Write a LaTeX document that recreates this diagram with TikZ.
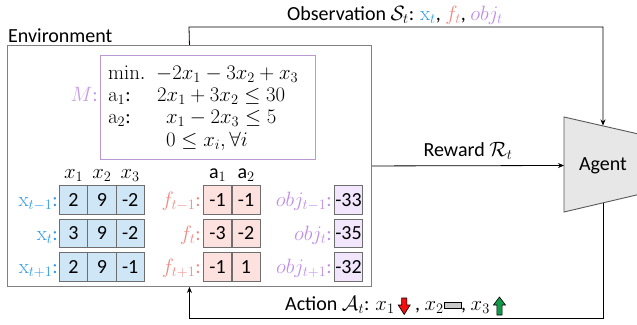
\documentclass[tikz,border=0pt]{standalone}
\usepackage[no-math]{fontspec}
\setmainfont{Carlito}
\DeclareMathSizes{20}{21}{15}{11}
\usetikzlibrary{arrows.meta,calc}
\definecolor{xblue}{HTML}{2E9BE6}
\definecolor{xfill}{HTML}{CFE6F7}
\definecolor{fred}{HTML}{EE8A82}
\definecolor{ffill}{HTML}{FDE1DE}
\definecolor{objpurple}{HTML}{C08EE6}
\definecolor{objfill}{HTML}{F2E6FD}
\definecolor{mpurple}{HTML}{C69BEA}
\definecolor{mborder}{HTML}{B899D4}
\definecolor{cellborder}{HTML}{6E6E6E}
\definecolor{envborder}{HTML}{808080}
\definecolor{agentfill}{HTML}{E7E7E7}
\definecolor{agentborder}{HTML}{595959}
\definecolor{downred}{HTML}{F01010}
\definecolor{upgreen}{HTML}{0E9A48}
\definecolor{rectgrey}{HTML}{C8C8C8}
\newcommand{\icondown}{\tikz[x=1pt,y=1pt,baseline=0pt]\draw[black,line width=0.6pt,fill=downred] (-2.6,12) -- (2.6,12) -- (2.6,5) -- (6,5) -- (0,-4.5) -- (-6,5) -- (-2.6,5) -- cycle;}
\newcommand{\iconup}{\tikz[x=1pt,y=1pt,baseline=0pt]\draw[black,line width=0.6pt,fill=upgreen] (-2.6,-5) -- (2.6,-5) -- (2.6,5) -- (6,5) -- (0,13) -- (-6,5) -- (-2.6,5) -- cycle;}
\newcommand{\iconrect}{\tikz[x=1pt,y=1pt,baseline=0pt]\draw[black,line width=0.6pt,fill=rectgrey] (0,2) rectangle (17,7.5);}
\begin{document}
\begin{tikzpicture}[x=1pt,y=-1pt,font=\fontsize{20}{24}\selectfont,
  cellbox/.style={draw=cellborder,line width=0.8pt,minimum width=28.33pt,minimum height=28.5pt,inner sep=0pt,anchor=north west},
  xcell/.style={cellbox,fill=xfill},
  fcell/.style={cellbox,fill=ffill},
  ocell/.style={cellbox,fill=objfill},
  rowlab/.style={anchor=base east,inner sep=0pt},
  head/.style={anchor=base,inner sep=0pt},
  mline/.style={anchor=base west,inner sep=0pt,text height=14pt,text depth=3pt},
  conn/.style={line width=0.8pt,black},
  tip/.style={-{Stealth[length=6pt,width=5pt]}}]
\useasboundingbox (0,0) rectangle (637,324);
% environment
\node[draw=envborder,line width=0.9pt,minimum width=364pt,minimum height=241pt,anchor=north west,inner sep=0pt] (env) at (7,45) {};
\node[anchor=base west,inner sep=0pt] (envlab) at (8,42) {Environment};
% M box
\node[draw=mborder,line width=0.9pt,minimum width=215pt,minimum height=104pt,anchor=north west,inner sep=0pt] (mbox) at (100,55) {};
\node[anchor=base east,inner sep=0pt,text=mpurple] (mlab) at (98,101.5) {$M$:};
\node[mline] (m1a) at (108,79) {$\mathrm{min.}$};
\node[mline] (m1b) at (156,79) {$-2x_1-3x_2+x_3$};
\node[mline] (m2a) at (108,101.5) {$\mathrm{a}_1$:};
\node[mline] (m2b) at (157,101.5) {$2x_1+3x_2\le 30$};
\node[mline] (m3a) at (108,123) {$\mathrm{a}_2$:};
\node[mline] (m3b) at (166,123) {$x_1-2x_3\le 5$};
\node[mline] (m4b) at (166,146) {$0\le x_i,\forall i$};
% x cells
\node[xcell] (x11) at (59,185) {2};
\node[xcell] (x12) at (87.33,185) {9};
\node[xcell] (x13) at (115.67,185) {-2};
\node[xcell] (x21) at (59,218.5) {3};
\node[xcell] (x22) at (87.33,218.5) {9};
\node[xcell] (x23) at (115.67,218.5) {-2};
\node[xcell] (x31) at (59,252) {2};
\node[xcell] (x32) at (87.33,252) {9};
\node[xcell] (x33) at (115.67,252) {-1};
% f cells
\node[fcell] (f11) at (203,185) {-1};
\node[fcell] (f12) at (231.5,185) {-1};
\node[fcell] (f21) at (203,218.5) {-3};
\node[fcell] (f22) at (231.5,218.5) {-2};
\node[fcell] (f31) at (203,252) {-1};
\node[fcell] (f32) at (231.5,252) {1};
% obj cells
\node[ocell] (o1) at (334,185) {-33};
\node[ocell] (o2) at (334,218.5) {-35};
\node[ocell] (o3) at (334,252) {-32};
% headers
\node[head] (hx1) at ($(x11.north)+(0,-7)$) {$x_1$};
\node[head] (hx2) at ($(x12.north)+(0,-7)$) {$x_2$};
\node[head] (hx3) at ($(x13.north)+(0,-7)$) {$x_3$};
\node[head] (ha1) at ($(f11.north)+(0,-7)$) {a$_1$};
\node[head] (ha2) at ($(f12.north)+(0,-7)$) {a$_2$};
% row labels
\node[rowlab,text=xblue] (lx1) at ($(x11.west)+(-1,7)$) {$\mathrm{x}_{t-1}$:};
\node[rowlab,text=xblue] (lx2) at ($(x21.west)+(-1,7)$) {$\mathrm{x}_{t}$:};
\node[rowlab,text=xblue] (lx3) at ($(x31.west)+(-1,7)$) {$\mathrm{x}_{t+1}$:};
\node[rowlab,text=fred] (lf1) at ($(f11.west)+(-2,7)$) {$f_{t-1}$:};
\node[rowlab,text=fred] (lf2) at ($(f21.west)+(-2,7)$) {$f_{t}$:};
\node[rowlab,text=fred] (lf3) at ($(f31.west)+(-2,7)$) {$f_{t+1}$:};
\node[rowlab,text=objpurple] (lo1) at ($(o1.west)+(-2,7)$) {$obj_{t-1}$:};
\node[rowlab,text=objpurple] (lo2) at ($(o2.west)+(-2,7)$) {$obj_{t}$:};
\node[rowlab,text=objpurple] (lo3) at ($(o3.west)+(-2,7)$) {$obj_{t+1}$:};
% agent
\draw[draw=agentborder,line width=0.9pt,fill=agentfill] (564,117) -- (645,135.5) -- (645,193) -- (564,212) -- cycle;
\node[inner sep=0pt] (agent) at (603,166) {Agent};
\coordinate (agtop) at (603,125.5);
\coordinate (agbot) at (603,203);
\coordinate (agleft) at (564,165.5);
\coordinate (obscorner) at (189,27);
\coordinate (actcorner) at (603,318);
% connectors
\draw[conn,tip] (env.north) -- (obscorner) -| (agtop);
\draw[conn,tip] (agbot) -- (actcorner) -| (env.south);
\draw[conn,tip] (env.east) -- (agleft);
% labels
\node[anchor=base,inner sep=0pt] (obslab) at (395,20.5) {Observation $\mathcal{S}_t$: {\color{xblue}$\mathrm{x}_t$}, {\color{fred}$f_t$}, {\color{objpurple}$obj_t$}};
\node[anchor=base,inner sep=0pt] (rewlab) at (468,156.5) {Reward $\mathcal{R}_t$};
\node[anchor=base west,inner sep=0pt] (actlab) at (285,310) {Action $\mathcal{A}_t$: $x_1$\,\icondown\ , $x_2$\iconrect, $x_3$\,\iconup};
\end{tikzpicture}
\end{document}
